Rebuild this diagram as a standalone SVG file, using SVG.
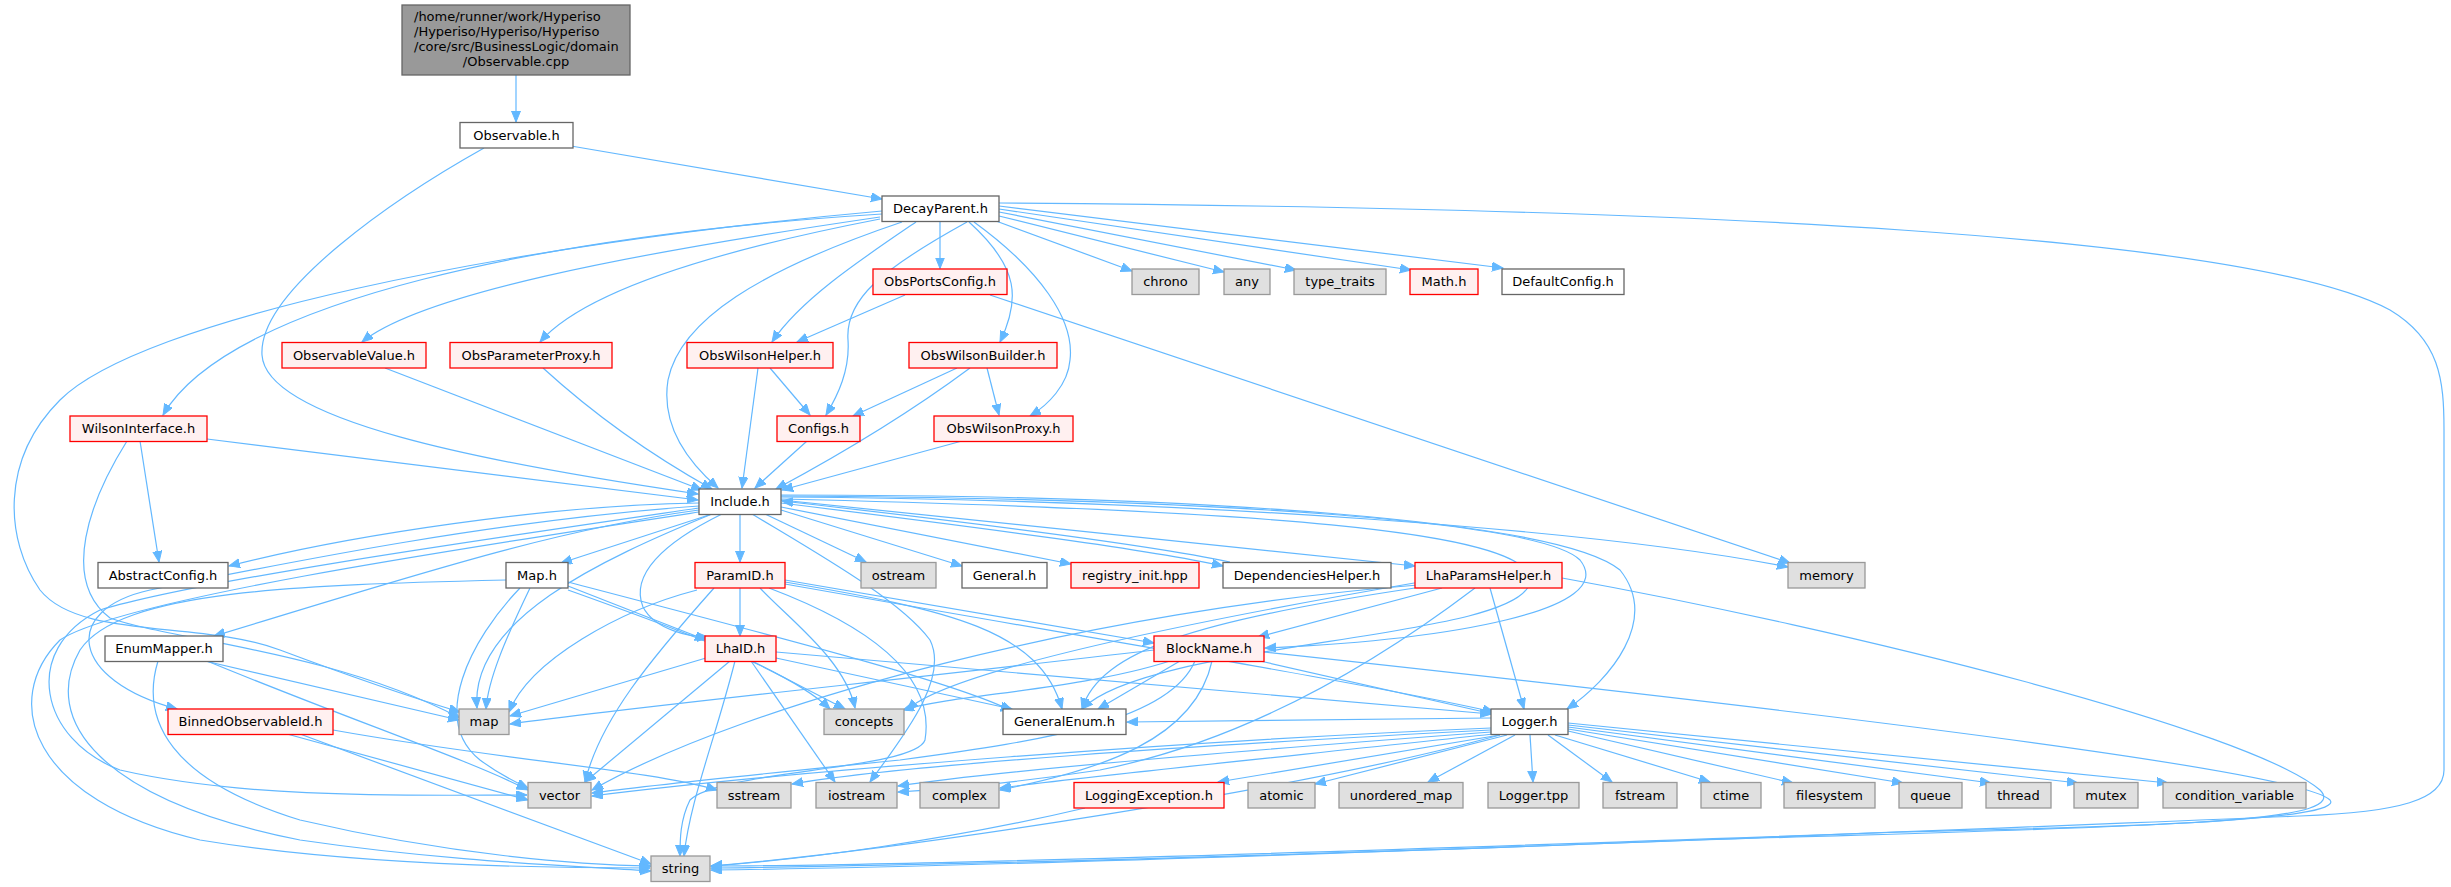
<svg xmlns="http://www.w3.org/2000/svg" width="2451" height="887" viewBox="0 0 2451 887">
<style>
text{font-family:"DejaVu Sans","Liberation Sans",sans-serif;font-size:13px;fill:#000;text-anchor:middle}
.n rect{fill:#fff;stroke:#666;stroke-width:1.3}
.r rect{fill:#fff0f0;stroke:#f00;stroke-width:1.3}
.x rect{fill:#e0e0e0;stroke:#999;stroke-width:1.3}
.root rect{fill:#999;stroke:#666;stroke-width:1.3}
#edges path{fill:none;stroke:#63b8ff;stroke-width:1.2;marker-end:url(#ah)}
</style>
<defs>
<marker id="ah" markerUnits="userSpaceOnUse" markerWidth="12" markerHeight="10" refX="11" refY="4.5" orient="auto" viewBox="0 0 12 10">
<path d="M0,0 L11,4.5 L0,9 z" fill="#63b8ff" stroke="#63b8ff"/>
</marker>
</defs>
<rect width="2451" height="887" fill="#fff"/>
<g id="edges">
<path d="M516,75 L516,122"/>
<path d="M571,146 L882,199"/>
<path d="M484,148 C400,195 258,290 262,355 C266,420 480,462 698,494"/>
<path d="M940,221.5 L940,268.5"/>
<path d="M996,221 L1132,271"/>
<path d="M999,216 L1224,272"/>
<path d="M999,212 L1296,270"/>
<path d="M999,209 L1411,270"/>
<path d="M999,206 L1503,268"/>
<path d="M999,203 C1700,208 2250,235 2390,310 C2440,340 2444,380 2444,430 L2444,770 C2444,800 2400,812 2300,816 C1800,836 1200,862 711,868"/>
<path d="M882,211 C500,245 140,320 60,400 C0,460 5,540 40,590 C80,640 200,620 280,650 C360,680 420,700 460,712"/>
<path d="M882,214 C550,235 230,300 163,415"/>
<path d="M880,217 C620,255 420,295 362,342"/>
<path d="M880,219 C720,250 585,290 540,342"/>
<path d="M902,222 C760,270 680,320 668,380 C660,430 695,468 718,488"/>
<path d="M916,222 C860,260 800,300 772,342"/>
<path d="M967,222 C880,270 845,300 848,340 C850,370 838,395 826,415"/>
<path d="M969,222 C1020,268 1020,300 1000,342"/>
<path d="M974,222 C1040,270 1075,320 1070,360 C1068,385 1048,405 1030,416"/>
<path d="M905,295 L797,342"/>
<path d="M990,295 L1790,563"/>
<path d="M385,368 L702,490"/>
<path d="M543,368 C600,420 660,460 712,489"/>
<path d="M758,368 L742,488"/>
<path d="M770,368 L810,415"/>
<path d="M957,368 L853,416"/>
<path d="M970,368 C900,420 830,460 776,489"/>
<path d="M987,368 L999,415"/>
<path d="M807,441 L755,488"/>
<path d="M962,441 L782,490"/>
<path d="M207,439 L698,500"/>
<path d="M140,441 L159,562"/>
<path d="M127,441 C90,500 60,580 110,618 C170,640 330,650 460,718"/>
<path d="M699,503 C550,505 350,535 229,566"/>
<path d="M712,514 L561,563"/>
<path d="M740,514.5 L740,562"/>
<path d="M699,510 C550,530 400,580 214,636"/>
<path d="M699,506 C500,520 300,560 150,590 C60,610 70,680 177,709"/>
<path d="M699,508 C480,540 200,580 100,610 C20,650 40,740 120,770 C250,800 420,795 527,795"/>
<path d="M699,512 C450,550 120,600 60,640 C0,700 30,800 200,840 C350,865 550,868 650,868"/>
<path d="M712,514 C600,560 470,620 477,708"/>
<path d="M722,514 C663,543 630,575 643,607 C655,630 690,637 708,637"/>
<path d="M765,514 L866,562"/>
<path d="M781,510 L962,566"/>
<path d="M781,507 L1071,564"/>
<path d="M781,503 C1000,530 1150,550 1223,566"/>
<path d="M1230,562 C1150,545 950,520 782,501"/>
<path d="M781,500 L1415,566"/>
<path d="M781,497 C1200,500 1600,530 1788,567"/>
<path d="M781,495 C1200,495 1560,520 1620,570 C1660,620 1610,680 1567,709"/>
<path d="M781,496 C1200,498 1540,520 1580,560 C1620,610 1450,640 1265,648"/>
<path d="M781,499 C1250,510 1530,530 1530,580 C1530,640 1150,640 1082,709"/>
<path d="M752,514 C820,555 900,600 930,640 C950,680 900,740 870,782"/>
<path d="M740,588 L740,636"/>
<path d="M697,590 C620,610 530,660 509,712"/>
<path d="M714,588 C650,660 600,720 585,782"/>
<path d="M760,588 C790,620 845,660 855,708"/>
<path d="M785,582 C950,610 1040,630 1062,709"/>
<path d="M785,580 L1154,643"/>
<path d="M785,584 C1100,640 1350,680 1494,712"/>
<path d="M769,588 C880,630 935,680 925,740 C915,770 720,770 690,800 C680,820 680,840 680,856"/>
<path d="M706,658 L510,716"/>
<path d="M730,661 L585,782"/>
<path d="M735,661 C715,740 690,800 684,856"/>
<path d="M752,661 L845,709"/>
<path d="M751,661 L835,782"/>
<path d="M776,658 L1012,709"/>
<path d="M776,652 L1491,714"/>
<path d="M530,588 C505,640 488,680 486,709"/>
<path d="M520,588 C470,640 430,720 480,760 C500,775 515,782 528,788"/>
<path d="M568,586 L706,640"/>
<path d="M568,590 C680,630 790,670 830,709"/>
<path d="M568,582 C750,630 950,680 1012,711"/>
<path d="M506,580 C300,585 120,590 80,650 C40,720 100,800 300,840 C450,862 580,866 651,871"/>
<path d="M205,661 L459,720"/>
<path d="M207,661 C350,720 470,760 528,790"/>
<path d="M158,661 C140,720 170,780 300,820 C450,855 580,865 651,866"/>
<path d="M287,734 L528,800"/>
<path d="M333,730 C500,760 650,770 717,790"/>
<path d="M300,734 L651,864"/>
<path d="M1154,650 C900,680 650,705 510,724"/>
<path d="M1170,661 C1080,690 950,695 903,710"/>
<path d="M1180,661 L1098,709"/>
<path d="M1260,661 L1493,714"/>
<path d="M1195,661 C1170,720 1050,740 900,760 C750,775 650,785 592,793"/>
<path d="M1212,661 C1195,740 1100,770 1000,790"/>
<path d="M1264,652 C1800,710 2300,770 2330,800 C2350,825 2000,830 1700,840 C1300,855 900,868 711,870"/>
<path d="M1442,588 L1258,637"/>
<path d="M1490,588 L1524,709"/>
<path d="M1420,582 C1200,620 950,670 907,710"/>
<path d="M1475,588 C1380,660 1250,740 1100,770 C1000,785 930,790 898,792"/>
<path d="M1415,588 C1200,620 1100,650 1082,709"/>
<path d="M1418,585 C1100,610 750,700 592,790"/>
<path d="M1562,578 C1850,630 2250,730 2320,790 C2350,820 2200,825 1900,832 C1400,850 900,866 711,866"/>
<path d="M1491,718 L1127,722"/>
<path d="M1491,728 C1200,740 800,770 592,796"/>
<path d="M1491,730 C1200,745 900,765 792,784"/>
<path d="M1491,732 C1250,750 1000,770 898,786"/>
<path d="M1493,734 C1300,755 1100,775 1000,788"/>
<path d="M1500,735 C1300,790 900,850 711,866"/>
<path d="M1500,735 L1218,782"/>
<path d="M1507,735 L1315,784"/>
<path d="M1515,735 L1428,782"/>
<path d="M1530,735 L1533,782"/>
<path d="M1548,735 L1612,782"/>
<path d="M1555,735 L1710,782"/>
<path d="M1568,731 L1793,783"/>
<path d="M1568,729 L1903,783"/>
<path d="M1568,727 L1991,783"/>
<path d="M1568,725 L2078,783"/>
<path d="M1568,723 L2168,783"/>
<path d="M1085,808 C950,840 800,860 711,866"/>
</g>
<g id="n_root" class="root"><rect x="402" y="5" width="228" height="70"/>
<text x="414" y="21" style="text-anchor:start">/home/runner/work/Hyperiso</text>
<text x="414" y="36" style="text-anchor:start">/Hyperiso/Hyperiso/Hyperiso</text>
<text x="414" y="51" style="text-anchor:start">/core/src/BusinessLogic/domain</text>
<text x="516" y="66">/Observable.cpp</text></g>
<g id="n_observable" class="n"><rect x="460" y="122.5" width="113" height="25.5"/><text x="516.5" y="139.5">Observable.h</text></g>
<g id="n_decayparent" class="n"><rect x="882" y="196" width="117" height="25.5"/><text x="940.5" y="213">DecayParent.h</text></g>
<g id="n_obsportsconfig" class="r"><rect x="873" y="269" width="134" height="25.5"/><text x="940" y="286">ObsPortsConfig.h</text></g>
<g id="n_chrono" class="x"><rect x="1132" y="269" width="67" height="25.5"/><text x="1165.5" y="286">chrono</text></g>
<g id="n_any" class="x"><rect x="1224" y="269" width="46" height="25.5"/><text x="1247" y="286">any</text></g>
<g id="n_type_traits" class="x"><rect x="1294" y="269" width="92" height="25.5"/><text x="1340" y="286">type_traits</text></g>
<g id="n_math" class="r"><rect x="1410" y="269" width="68" height="25.5"/><text x="1444" y="286">Math.h</text></g>
<g id="n_defaultconfig" class="n"><rect x="1502" y="269" width="122" height="25.5"/><text x="1563" y="286">DefaultConfig.h</text></g>
<g id="n_observablevalue" class="r"><rect x="282" y="342.5" width="144" height="25.5"/><text x="354" y="359.5">ObservableValue.h</text></g>
<g id="n_obsparameterproxy" class="r"><rect x="450" y="342.5" width="162" height="25.5"/><text x="531" y="359.5">ObsParameterProxy.h</text></g>
<g id="n_obswilsonhelper" class="r"><rect x="687" y="342.5" width="146" height="25.5"/><text x="760" y="359.5">ObsWilsonHelper.h</text></g>
<g id="n_obswilsonbuilder" class="r"><rect x="909" y="342.5" width="148" height="25.5"/><text x="983" y="359.5">ObsWilsonBuilder.h</text></g>
<g id="n_wilsoninterface" class="r"><rect x="70" y="416" width="137" height="25.5"/><text x="138.5" y="433">WilsonInterface.h</text></g>
<g id="n_configs" class="r"><rect x="777" y="416" width="83" height="25.5"/><text x="818.5" y="433">Configs.h</text></g>
<g id="n_obswilsonproxy" class="r"><rect x="934" y="416" width="139" height="25.5"/><text x="1003.5" y="433">ObsWilsonProxy.h</text></g>
<g id="n_include" class="n"><rect x="699" y="489" width="82" height="25.5"/><text x="740" y="506">Include.h</text></g>
<g id="n_abstractconfig" class="n"><rect x="98" y="562.5" width="130" height="25.5"/><text x="163" y="579.5">AbstractConfig.h</text></g>
<g id="n_map_h" class="n"><rect x="506" y="562.5" width="62" height="25.5"/><text x="537" y="579.5">Map.h</text></g>
<g id="n_paramid" class="r"><rect x="695" y="562.5" width="90" height="25.5"/><text x="740" y="579.5">ParamID.h</text></g>
<g id="n_ostream" class="x"><rect x="861" y="562.5" width="75" height="25.5"/><text x="898.5" y="579.5">ostream</text></g>
<g id="n_general" class="n"><rect x="962" y="562.5" width="85" height="25.5"/><text x="1004.5" y="579.5">General.h</text></g>
<g id="n_registry_init" class="r"><rect x="1071" y="562.5" width="128" height="25.5"/><text x="1135" y="579.5">registry_init.hpp</text></g>
<g id="n_dependencieshelper" class="n"><rect x="1223" y="562.5" width="168" height="25.5"/><text x="1307" y="579.5">DependenciesHelper.h</text></g>
<g id="n_lhaparamshelper" class="r"><rect x="1415" y="562.5" width="147" height="25.5"/><text x="1488.5" y="579.5">LhaParamsHelper.h</text></g>
<g id="n_memory" class="x"><rect x="1788" y="562.5" width="77" height="25.5"/><text x="1826.5" y="579.5">memory</text></g>
<g id="n_enummapper" class="n"><rect x="105" y="636" width="118" height="25.5"/><text x="164" y="653">EnumMapper.h</text></g>
<g id="n_lhaid" class="r"><rect x="705" y="636" width="71" height="25.5"/><text x="740.5" y="653">LhaID.h</text></g>
<g id="n_blockname" class="r"><rect x="1154" y="636" width="110" height="25.5"/><text x="1209" y="653">BlockName.h</text></g>
<g id="n_binnedobservableid" class="r"><rect x="168" y="709" width="165" height="25.5"/><text x="250.5" y="726">BinnedObservableId.h</text></g>
<g id="n_map" class="x"><rect x="459" y="709" width="50" height="25.5"/><text x="484" y="726">map</text></g>
<g id="n_concepts" class="x"><rect x="824" y="709" width="80" height="25.5"/><text x="864" y="726">concepts</text></g>
<g id="n_generalenum" class="n"><rect x="1003" y="709" width="123" height="25.5"/><text x="1064.5" y="726">GeneralEnum.h</text></g>
<g id="n_logger" class="n"><rect x="1491" y="709" width="77" height="25.5"/><text x="1529.5" y="726">Logger.h</text></g>
<g id="n_vector" class="x"><rect x="528" y="782.5" width="63" height="25.5"/><text x="559.5" y="799.5">vector</text></g>
<g id="n_sstream" class="x"><rect x="717" y="782.5" width="74" height="25.5"/><text x="754" y="799.5">sstream</text></g>
<g id="n_iostream" class="x"><rect x="816" y="782.5" width="81" height="25.5"/><text x="856.5" y="799.5">iostream</text></g>
<g id="n_complex" class="x"><rect x="920" y="782.5" width="79" height="25.5"/><text x="959.5" y="799.5">complex</text></g>
<g id="n_loggingexception" class="r"><rect x="1074" y="782.5" width="150" height="25.5"/><text x="1149" y="799.5">LoggingException.h</text></g>
<g id="n_atomic" class="x"><rect x="1248" y="782.5" width="67" height="25.5"/><text x="1281.5" y="799.5">atomic</text></g>
<g id="n_unordered_map" class="x"><rect x="1339" y="782.5" width="124" height="25.5"/><text x="1401" y="799.5">unordered_map</text></g>
<g id="n_loggertpp" class="x"><rect x="1488" y="782.5" width="91" height="25.5"/><text x="1533.5" y="799.5">Logger.tpp</text></g>
<g id="n_fstream" class="x"><rect x="1603" y="782.5" width="74" height="25.5"/><text x="1640" y="799.5">fstream</text></g>
<g id="n_ctime" class="x"><rect x="1701" y="782.5" width="60" height="25.5"/><text x="1731" y="799.5">ctime</text></g>
<g id="n_filesystem" class="x"><rect x="1784" y="782.5" width="91" height="25.5"/><text x="1829.5" y="799.5">filesystem</text></g>
<g id="n_queue" class="x"><rect x="1899" y="782.5" width="63" height="25.5"/><text x="1930.5" y="799.5">queue</text></g>
<g id="n_thread" class="x"><rect x="1986" y="782.5" width="65" height="25.5"/><text x="2018.5" y="799.5">thread</text></g>
<g id="n_mutex" class="x"><rect x="2074" y="782.5" width="64" height="25.5"/><text x="2106" y="799.5">mutex</text></g>
<g id="n_condition_variable" class="x"><rect x="2163" y="782.5" width="143" height="25.5"/><text x="2234.5" y="799.5">condition_variable</text></g>
<g id="n_string" class="x"><rect x="651" y="856" width="59" height="25.5"/><text x="680.5" y="873">string</text></g>
</svg>
